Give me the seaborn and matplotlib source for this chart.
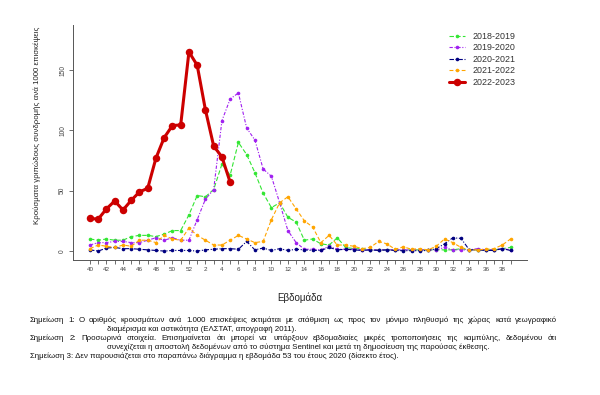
import numpy as np
import pandas as pd
import matplotlib
matplotlib.use("Agg")
import matplotlib.pyplot as plt
import seaborn as sns

# Εβδομάδες 40-52 και 1-39
weeks = list(range(40, 53)) + list(range(1, 40))
tick_labels = [str(w) if w % 2 == 0 else "" for w in weeks]

seasons = ["2018-2019", "2019-2020", "2020-2021", "2021-2022", "2022-2023"]

v_1819 = [10, 9, 10, 9, 9, 12, 13, 13, 12, 14, 17, 17, 30,
          46, 45, 51, 72, 63, 90, 80, 65, 48, 36, 40, 28, 24, 9, 10, 6, 5,
          11, 3, 2, 2, 1, 1, 1, 1, 1, 1, 1, 1, 1, 1, 1, 2, 1, 1, 1, 1, 2, 3]
v_1920 = [5, 7, 7, 8, 8, 7, 7, 9, 11, 9, 11, 9, 9,
          26, 43, 51, 108, 126, 131, 102, 92, 68, 62, 40, 17, 7, 1.5, 1.5, 1, 4,
          1.5, 1.5, 1.5, 1, 1, 1, 1, 1, 1, 1, 1, 1, 1, 3, 1, 1, 1, 2, 1, 1, 2, 1]
v_2021 = [1, 0, 2.5, 3, 2, 2, 1.5, 1, 0.5, 0, 0.5, 0.5, 0.5,
          0, 1, 1.5, 2, 2, 1.5, 8, 1, 2.5, 0.5, 2, 0.5, 1.5, 1, 0.5, 0.5, 3,
          1, 1.5, 1, 0.5, 1, 0.5, 1, 0.5, 0.3, 0.3, 0.3, 0.5, 2, 6, 11, 10.5,
          1, 1, 0.5, 0.5, 2, 0.5]
v_2122 = [2, 5, 4, 3, 5, 4, 9, 9, 7, 13, 10, 9, 19,
          13, 9, 5, 5, 9, 13, 10, 7, 8, 26, 40, 45, 35, 25, 20, 7, 13,
          5, 5, 4, 2, 3, 8, 6, 1.5, 3.5, 1.5, 2, 1, 4, 10, 7, 3,
          1, 1, 1.5, 2, 5, 10]
v_2223 = [27, 26.5, 35, 41.5, 34, 42, 49, 52, 77, 94, 104, 104.5, 165,
          154, 117, 87, 78, 57]

values = [v_1819, v_1920, v_2021, v_2122, v_2223]
colors = ["#33e633", "#a020f0", "#000080", "#ffa500", "#cc0000"]
styles = [(0, (4, 2)), (0, (3, 1.5, 1, 1.5)), (0, (4, 1.5, 1, 1.5)), (0, (3.5, 2)), "-"]

notes = [
    ("Σημείωση 1: Ο αριθμός κρουσμάτων ανά 1.000 επισκέψεις εκτιμάται με στάθμιση ως προς τον μόνιμο πληθυσμό της χώρας κατά γεωγραφικό", True, 30),
    ("διαμέρισμα και αστικότητα (ΕΛΣΤΑΤ, απογραφή 2011).", False, 107),
    ("Σημείωση 2: Προσωρινά στοιχεία. Επισημαίνεται ότι μπορεί να υπάρξουν εβδομαδιαίες μικρές τροποποιήσεις της καμπύλης, δεδομένου ότι", True, 30),
    ("συνεχίζεται η αποστολή δεδομένων από το σύστημα Sentinel και μετά τη δημοσίευση της παρούσας έκθεσης.", False, 107),
    ("Σημείωση 3: Δεν παρουσιάζεται στο παραπάνω διάγραμμα η εβδομάδα 53 του έτους 2020 (δίσεκτο έτος).", False, 30),
]

sns.set_style("ticks")
plt.rcParams["font.family"] = ["Liberation Sans", "DejaVu Sans"]

fig = plt.figure(figsize=(6, 3.95), dpi=100)
ax = fig.add_axes([73 / 600, 1 - 260 / 395, 454 / 600, 235 / 395])

for season, vals, col, ls in zip(seasons, values, colors, styles):
    x = np.arange(len(vals))
    big = season == "2022-2023"
    sns.lineplot(x=x, y=vals, ax=ax, color=col, linestyle=ls,
                 lw=2.2 if big else 0.8, marker="o",
                 ms=5.4 if big else 2.6, mec=col, mew=0,
                 label=season, zorder=5 if big else 3)

ax.set_xlim(-2.06, 53.0)
ax.set_ylim(-7.4, 187.3)
ax.set_xticks(np.arange(len(weeks)))
ax.set_xticklabels(tick_labels, fontsize=4.5, color="#444444")
ax.set_yticks([0, 50, 100, 150])
ax.set_yticklabels(["0", "50", "100", "150"], fontsize=4.8, color="#444444",
                   rotation=90, va="center")
ax.tick_params(axis="both", length=3, width=0.6, color="#555555", pad=2)
for s in ["top", "right"]:
    ax.spines[s].set_visible(False)
for s in ["left", "bottom"]:
    ax.spines[s].set_linewidth(0.7)
    ax.spines[s].set_color("#555555")
ax.set_xlabel("")
ax.set_ylabel("")

leg = ax.legend(loc="upper left", bbox_to_anchor=(449 / 600, 1 - 32 / 395),
                bbox_transform=fig.transFigure, frameon=False, fontsize=6.4,
                handlelength=1.8, handletextpad=0.9, labelspacing=0.28,
                borderpad=0, borderaxespad=0)
for t in leg.get_texts():
    t.set_color("#333333")

fig.text(300 / 600, 1 - 298 / 395, "Εβδομάδα", ha="center", va="center",
         fontsize=7, color="#222222")
fig.text(37 / 600, 1 - 125 / 395,
         "Κρούσματα γριπώδους συνδρομής ανά 1000 επισκέψεις",
         rotation=90, ha="center", va="center", fontsize=5.7, color="#222222")

# Σημειώσεις κάτω από το γράφημα
renderer = fig.canvas.get_renderer()
note_y = [320, 329, 338, 347, 356]
for (line, just, x0), y in zip(notes, note_y):
    kw = dict(fontsize=5.65, color="#111111", va="center", ha="left")
    if not just:
        fig.text(x0 / 600, 1 - y / 395, line, **kw)
        continue
    words = line.split(" ")
    texts = [fig.text(0, 1 - y / 395, w, **kw) for w in words]
    widths = [t.get_window_extent(renderer).width for t in texts]
    gap = (557 - x0 - sum(widths)) / (len(words) - 1)
    xx = x0
    for t, w in zip(texts, widths):
        t.set_x(xx / 600)
        xx += w + gap

fig.savefig("out.png", dpi=100)
